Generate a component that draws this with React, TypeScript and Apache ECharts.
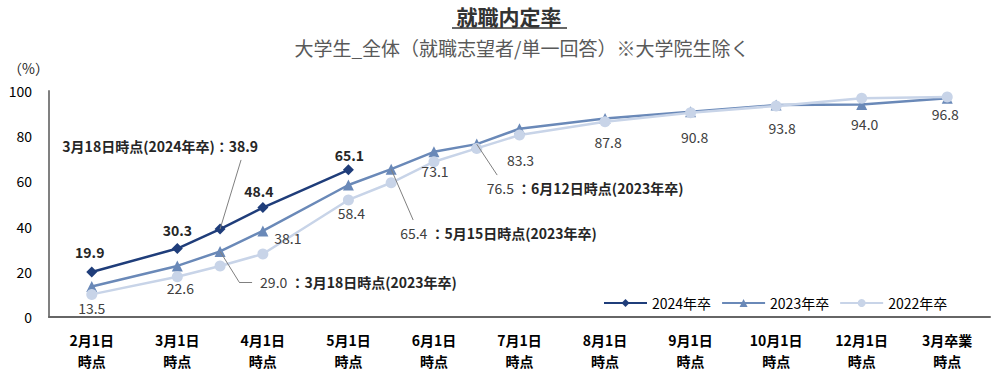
import React, { useEffect, useRef } from "react";
import * as echarts from "echarts";

const categories = [
  "2月1日\n時点",
  "3月1日\n時点",
  "4月1日\n時点",
  "5月1日\n時点",
  "6月1日\n時点",
  "7月1日\n時点",
  "8月1日\n時点",
  "9月1日\n時点",
  "10月1日\n時点",
  "12月1日\n時点",
  "3月卒業\n時点",
];

const seriesNames = ["2024年卒", "2023年卒", "2022年卒"];

// positions on the category scale (fractions = intermediate survey dates)
const pos2024 = [0, 1, 1.5, 2, 3];
const val2024 = [19.9, 30.3, 38.9, 48.4, 65.1];

const pos2023 = [0, 1, 1.5, 2, 3, 3.5, 4, 4.5, 5, 6, 7, 8, 9, 10];
const val2023 = [13.5, 22.6, 29.0, 38.1, 58.4, 65.4, 73.1, 76.5, 83.3, 87.8, 90.8, 93.8, 94.0, 96.8];

const pos2022 = [0, 1, 1.5, 2, 3, 3.5, 4, 4.5, 5, 6, 7, 8, 9, 10];
const val2022 = [10.0, 17.8, 22.6, 27.9, 51.8, 59.4, 68.7, 74.6, 80.5, 86.4, 90.4, 93.4, 96.8, 97.3];

// callout notes (index -> note)
const notes2024: Record<number, string> = { 2: "3月18日時点(2024年卒)" };
const notes2023: Record<number, string> = {
  2: "3月18日時点(2023年卒)",
  5: "5月15日時点(2023年卒)",
  7: "6月12日時点(2023年卒)",
};

// label offsets from point centre (px)
const off2024 = [[-2, -20], [0, -19], [38, -83], [-4, -17], [1, -15]];
const off2023 = [
  [0, 22], [3, 22], [40, 31], [25, 7], [3, 28], [9, 64], [1, 19],
  [10, 44], [1, 31], [3, 23], [4, 25], [6, 23], [3, 19], [-2, 16],
];

// leader lines (data space)
const leaders2024 = [[[1.5, 38.9], [1.745, 69.5]]];
const leaders2023 = [
  [[1.5, 29.0], [1.722, 15.5]],
  [[1.722, 15.5], [1.874, 15.5]],
  [[3.5, 65.4], [3.757, 42.9]],
  [[4.5, 76.5], [4.739, 62.8]],
];

const FONT = "'Noto Sans CJK JP', 'Noto Sans', sans-serif";
const C2024 = "#1F3D7A";
const C2023 = "#6A89B8";
const C2022 = "#C8D4E8";

function buildOption() {
  const d2024 = pos2024.map((p, i) => {
    const o = off2024[i];
    const note = notes2024[i];
    return {
      value: [p, val2024[i]],
      label: note
        ? {
            show: true,
            position: "inside",
            align: "right",
            offset: o,
            formatter: `${note}：${val2024[i].toFixed(1)}`,
          }
        : { show: true, position: "inside", offset: o },
    };
  });
  const d2023 = pos2023.map((p, i) => {
    const o = off2023[i];
    const note = notes2023[i];
    return {
      value: [p, val2023[i]],
      label: note
        ? {
            show: true,
            position: "inside",
            align: "left",
            offset: o,
            formatter: `{n|${val2023[i].toFixed(1)}} {b|：${note}}`,
          }
        : { show: true, position: "inside", offset: o },
    };
  });
  const d2022 = pos2022.map((p, i) => [p, val2022[i]]);

  const leaderStyle = { color: "#808080", width: 1, type: "solid" };
  const mkLeaders = (arr: number[][][]) => ({
    silent: true,
    symbol: ["none", "none"],
    label: { show: false },
    lineStyle: leaderStyle,
    emphasis: { disabled: true },
    data: arr.map((seg) => [{ coord: seg[0] }, { coord: seg[1] }]),
  });

  return {
    animation: false,
    textStyle: { fontFamily: FONT },
    graphic: [
      {
        type: "text",
        x: 509,
        y: 4,
        style: {
          text: "就職内定率",
          fontSize: 21,
          lineHeight: 24,
          fontWeight: "bold",
          fontFamily: FONT,
          fill: "#333333",
          align: "center",
          verticalAlign: "top",
        },
      },
      {
        type: "line",
        shape: { x1: 452, y1: 28, x2: 567, y2: 28 },
        style: { stroke: "#333333", lineWidth: 1.5 },
      },
      {
        type: "text",
        x: 522,
        y: 47,
        style: {
          text: "大学生_全体（就職志望者/単一回答）※大学院生除く",
          fontSize: 19,
          fontFamily: FONT,
          fill: "#595959",
          align: "center",
          verticalAlign: "middle",
        },
      },
      {
        type: "text",
        x: 8,
        y: 68,
        style: {
          text: "（%）",
          fontSize: 14,
          fontFamily: FONT,
          fill: "#262626",
          align: "left",
          verticalAlign: "middle",
        },
      },
    ],
    legend: {
      data: seriesNames,
      left: 598,
      top: 291,
      itemWidth: 43,
      itemHeight: 10,
      itemGap: 10,
      textStyle: { fontSize: 14, color: "#000", fontFamily: FONT },
    },
    grid: { left: 49, right: 10, top: 91, bottom: 58 },
    xAxis: [
      {
        type: "category",
        data: categories,
        boundaryGap: true,
        axisLine: { show: true, onZero: false, lineStyle: { color: "#666666", width: 2 } },
        axisTick: { show: false },
        splitLine: { show: false },
        axisLabel: {
          interval: 0,
          fontSize: 14,
          fontWeight: "bold",
          color: "#000",
          lineHeight: 21,
          margin: 12,
          fontFamily: FONT,
        },
      },
      {
        type: "value",
        min: -0.5,
        max: 10.5,
        show: false,
      },
    ],
    yAxis: {
      type: "value",
      min: 0,
      max: 100,
      interval: 20,
      axisLine: { show: true, onZero: false, lineStyle: { color: "#808080", width: 2 } },
      axisTick: { show: false },
      splitLine: { show: false },
      axisLabel: {
        fontSize: 14,
        color: "#000",
        margin: 17,
        padding: [6, 0, 0, 0],
        fontFamily: FONT,
      },
    },
    series: [
      {
        name: seriesNames[0],
        type: "line",
        xAxisIndex: 1,
        data: d2024,
        symbol: "diamond",
        symbolSize: 11,
        lineStyle: { color: C2024, width: 2.5 },
        itemStyle: { color: C2024 },
        label: {
          show: true,
          fontSize: 14,
          fontWeight: "bold",
          color: "#262626",
          fontFamily: FONT,
          formatter: (p: any) => Number(p.value[1]).toFixed(1),
        },
        markLine: mkLeaders(leaders2024),
        z: 3,
      },
      {
        name: seriesNames[1],
        type: "line",
        xAxisIndex: 1,
        data: d2023,
        symbol: "triangle",
        symbolSize: 11,
        lineStyle: { color: C2023, width: 2.5 },
        itemStyle: { color: C2023 },
        label: {
          show: true,
          fontSize: 14,
          color: "#404040",
          fontFamily: FONT,
          formatter: (p: any) => Number(p.value[1]).toFixed(1),
          rich: {
            n: { fontSize: 14, color: "#404040", fontWeight: "normal", fontFamily: FONT },
            b: { fontSize: 14, color: "#262626", fontWeight: "bold", fontFamily: FONT },
          },
        },
        markLine: mkLeaders(leaders2023),
        z: 2,
      },
      {
        name: seriesNames[2],
        type: "line",
        xAxisIndex: 1,
        data: d2022,
        symbol: "circle",
        symbolSize: 11,
        lineStyle: { color: C2022, width: 2.5 },
        itemStyle: { color: C2022 },
        label: { show: false },
        z: 2,
      },
    ],
  };
}

export default function App() {
  const ref = useRef<HTMLDivElement>(null);
  useEffect(() => {
    document.body.style.margin = "0";
    const chart = echarts.init(ref.current!, undefined, { renderer: "svg" });
    chart.setOption(buildOption() as any);
    return () => chart.dispose();
  }, []);
  return <div ref={ref} style={{ width: 1000, height: 375 }} />;
}
